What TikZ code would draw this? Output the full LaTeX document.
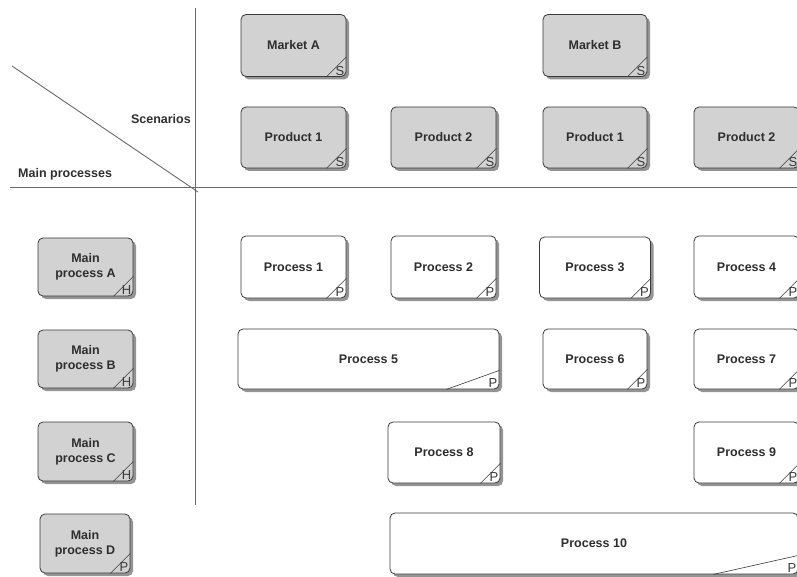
\documentclass[tikz,border=0pt]{standalone}
\usepackage{fontspec}
\setmainfont{Liberation Sans}
\usetikzlibrary{shadows}

\definecolor{boxline}{HTML}{3A3A3A}
\definecolor{boxgray}{HTML}{D2D2D2}
\definecolor{rule}{HTML}{6A6A6A}
\definecolor{labeltext}{HTML}{2E2E2E}

\tikzset{
  card/.style={rounded corners=5pt, draw=boxline, line width=0.8pt,
    minimum width=#1, inner sep=0pt, align=center,
    font=\fontsize{12.5}{15}\selectfont\bfseries, text=labeltext,
    drop shadow={shadow xshift=3pt, shadow yshift=-3pt, fill=black!42, opacity=1}},
  graycard/.style={card=#1, fill=boxgray},
  whitecard/.style={card=#1, fill=white},
  foldline/.style={draw=boxline, line width=0.6pt},
  foldletter/.style={font=\fontsize{13}{13}\selectfont, text=boxline, inner sep=0pt},
  axis/.style={draw=rule, line width=0.9pt},
  axislabel/.style={font=\fontsize{12.5}{15}\selectfont\bfseries, text=labeltext, inner sep=0pt}
}

% folded lower right corner with its type letter
\newcommand\cornerfold[4]{%
  \draw[foldline] ([xshift=-#2pt]#1.south east) -- ([yshift=#3pt]#1.south east);
  \node[foldletter, anchor=south east] at ([xshift=-2pt,yshift=1.5pt]#1.south east) {#4};}

\begin{document}
\begin{tikzpicture}[x=1pt,y=-1pt]
\useasboundingbox (0,0) rectangle (797,577);
\clip (0,0) rectangle (797,577);

% axes of the matrix
\coordinate (vtop) at (195,8);
\coordinate (vbot) at (195,505);
\coordinate (hleft) at (10,187);
\coordinate (hright) at (800,187);
\coordinate (dstart) at (12,66);
\coordinate (dend) at (198,192);
\draw[axis] (vtop) -- (vbot);
\draw[axis] (hleft) -- (hright);
\draw[axis] (dstart) -- (dend);
\node[axislabel, anchor=east] (scen) at (191,119) {Scenarios};
\node[axislabel, anchor=west] (mainp) at (18,174) {Main processes};

% scenarios
\node[graycard=105pt, minimum height=62pt] (mA) at (293.5,45.5) {Market A};
\node[graycard=104pt, minimum height=62pt] (mB) at (595,45.5) {Market B};
\node[graycard=105pt, minimum height=61pt] (p1) at (293.5,137.5) {Product 1};
\node[graycard=105pt, minimum height=61pt] (p2) at (443.5,137.5) {Product 2};
\node[graycard=104pt, minimum height=61pt] (p1b) at (595,137.5) {Product 1};
\node[graycard=105pt, minimum height=61pt] (p2b) at (746.5,137.5) {Product 2};
\foreach \n in {mA,mB,p1,p2,p1b,p2b}{\cornerfold{\n}{20}{20}{S}}

% main processes
\node[graycard=95pt, minimum height=58pt] (hA) at (85.5,267) {Main\\process A};
\node[graycard=95pt, minimum height=58pt] (hB) at (85.5,359) {Main\\process B};
\node[graycard=95pt, minimum height=59pt] (hC) at (85.5,451.5) {Main\\process C};
\node[graycard=90pt, minimum height=59pt] (hD) at (85,543.5) {Main\\process D};
\foreach \n in {hA,hB,hC}{\cornerfold{\n}{20}{20}{H}}
\cornerfold{hD}{20}{20}{P}

% processes
\node[whitecard=105pt, minimum height=62pt] (pr1) at (293.5,267) {Process 1};
\node[whitecard=105pt, minimum height=62pt] (pr2) at (443.5,267) {Process 2};
\node[whitecard=111pt, minimum height=61pt] (pr3) at (595,267.5) {Process 3};
\node[whitecard=105pt, minimum height=62pt] (pr4) at (746.5,267) {Process 4};
\node[whitecard=261pt, minimum height=60pt] (pr5) at (368.5,359) {Process 5};
\node[whitecard=104pt, minimum height=60pt] (pr6) at (595,359) {Process 6};
\node[whitecard=105pt, minimum height=60pt] (pr7) at (746.5,359) {Process 7};
\node[whitecard=112pt, minimum height=61pt] (pr8) at (444,452.5) {Process 8};
\node[whitecard=105pt, minimum height=61pt] (pr9) at (746.5,452.5) {Process 9};
\node[whitecard=408pt, minimum height=61pt] (pr10) at (594,543.5) {Process 10};
\foreach \n in {pr1,pr2,pr3,pr4,pr6,pr7,pr8,pr9}{\cornerfold{\n}{20}{20}{P}}
\cornerfold{pr5}{53}{19}{P}
\cornerfold{pr10}{85}{19}{P}
\end{tikzpicture}
\end{document}
